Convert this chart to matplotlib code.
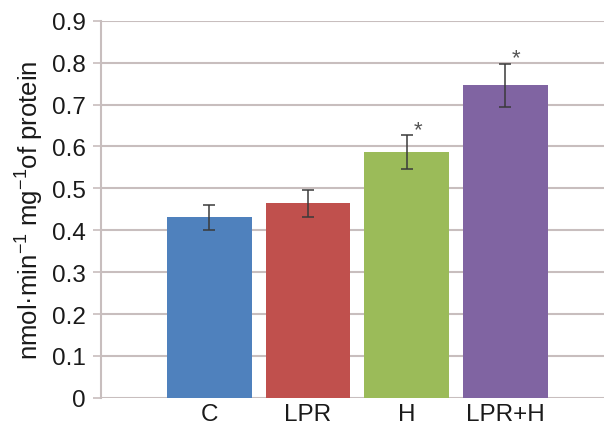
import numpy as np
import matplotlib
matplotlib.use("Agg")
import matplotlib.pyplot as plt

plt.rcParams['font.family'] = ['Liberation Sans', 'DejaVu Sans']
plt.rcParams['mathtext.default'] = 'regular'

# data
groups = ['C', 'LPR', 'H', 'LPR+H']
means = [0.431, 0.464, 0.587, 0.746]
errors = [0.030, 0.033, 0.040, 0.052]
signif = [False, False, True, True]
colors = ['#4F81BD', '#C0504D', '#9BBB59', '#8064A2']

grid_col = '#c8bebe'

fig = plt.figure(figsize=(6.04, 4.27), dpi=100)
ax = fig.add_axes([0.167, 0.066, 0.833, 0.883])

x = np.arange(len(groups))
ax.bar(x, means, width=0.86, color=colors, zorder=2)
ax.errorbar(x, means, yerr=errors, fmt='none', ecolor='#3a3a3a',
            elinewidth=1.1, capsize=4, capthick=1.1, zorder=3)
for xi, m, e, s in zip(x, means, errors, signif):
    if s:
        ax.text(xi + 0.11, m + e - 0.012, '*', fontsize=16, color='#555555',
                ha='center', va='bottom')

ax.set_xlim(-1.1, 4.0)
ax.set_ylim(0, 0.9)
ax.set_yticks(np.arange(0, 0.91, 0.1))
ax.set_yticklabels(['0'] + ['%.1f' % v for v in np.arange(0.1, 0.91, 0.1)])
ax.yaxis.grid(True, color=grid_col, linewidth=1.5, zorder=0)
ax.set_axisbelow(True)
ax.set_xticks(x)
ax.set_xticklabels(groups)
ax.tick_params(axis='x', length=0, labelsize=17.5, pad=4, colors='#1a1a1a')
ax.tick_params(axis='y', length=6, width=1.2, color=grid_col,
               labelsize=17.5, pad=5, labelcolor='#1a1a1a')

for side in ['top', 'right', 'bottom']:
    ax.spines[side].set_visible(False)
ax.spines['left'].set_color(grid_col)
ax.spines['left'].set_linewidth(1.5)

ax.set_ylabel('nmol·min$^{-1}$ mg$^{-1}$of protein', fontsize=18.5,
              color='#1a1a1a', labelpad=4)

fig.savefig('out.png', dpi=100)
